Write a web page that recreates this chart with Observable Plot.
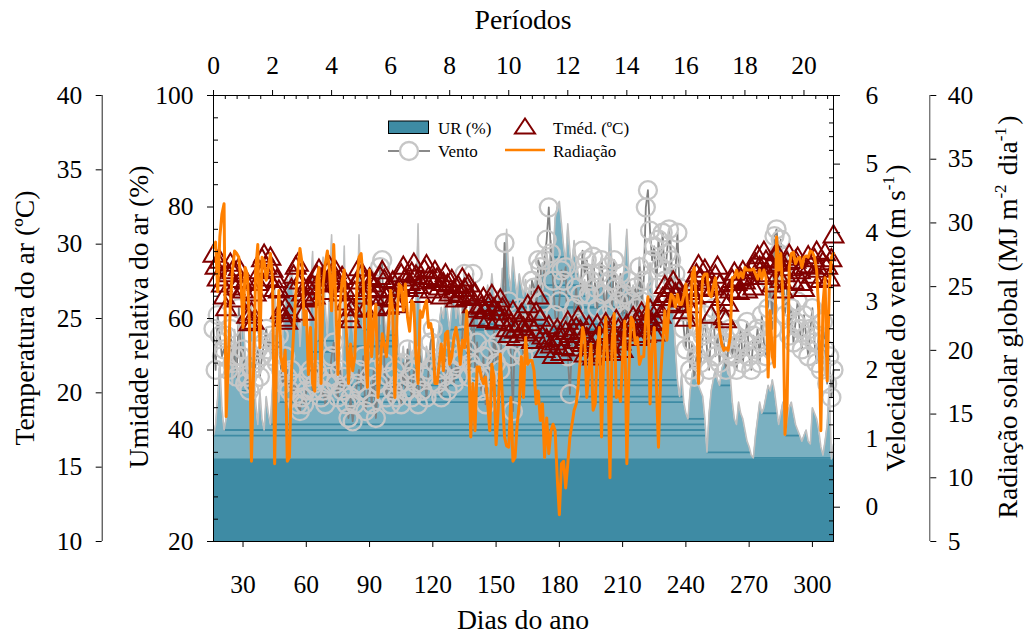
<!DOCTYPE html>
<html>
<head>
<meta charset="utf-8">
<script src="https://cdn.jsdelivr.net/npm/d3@7"></script>
<script src="https://cdn.jsdelivr.net/npm/@observablehq/plot@0.6"></script>
<style>
  html, body { margin: 0; padding: 0; background: #fff; }
  #chart { width: 1028px; height: 635px; }
</style>
</head>
<body>
<div id="chart"></div>
<script>
// Daily series, day of year 16 to 310 (one value per day)
const firstDay = 16;

// Relative humidity (%)
const umidade = [
  39, 41, 46, 52, 44, 40, 42, 50, 55, 48,
  58, 53, 47, 56, 61, 54, 49, 57, 63, 52,
  45, 41, 47, 42, 40, 46, 43, 41, 48, 66,
  57, 45, 50, 58, 62, 67, 66, 70, 64, 60,
  64, 55, 61, 65, 58, 54, 63, 72, 59, 56,
  61, 66, 71, 62, 57, 64, 75, 63, 50, 46,
  52, 48, 73, 55, 57, 65, 59, 55, 60, 75,
  64, 58, 62, 67, 60, 58, 61, 56, 63, 59,
  66, 60, 57, 62, 58, 61, 68, 59, 54, 52,
  55, 51, 53, 56, 52, 54, 62, 77, 58, 53,
  51, 55, 53, 56, 52, 49, 55, 59, 62, 60,
  64, 61, 58, 62, 65, 60, 63, 59, 62, 67,
  61, 58, 64, 62, 60, 63, 59, 61, 64, 62,
  66, 63, 68, 64, 62, 65, 63, 69, 66, 76,
  68, 65, 71, 67, 64, 68, 66, 64, 67, 63,
  66, 62, 65, 68, 64, 67, 70, 66, 72, 68,
  74, 71, 78, 80, 81, 77, 73, 70, 77, 72,
  69, 74, 70, 68, 66, 64, 67, 63, 66, 69,
  65, 62, 66, 68, 71, 65, 63, 68, 77, 69,
  64, 61, 65, 63, 67, 70, 76, 68, 64, 66,
  62, 65, 71, 66, 63, 60, 64, 70, 65, 62,
  60, 63, 58, 61, 57, 60, 63, 74, 62, 55,
  49, 46, 50, 45, 43, 42, 47, 50, 52, 49,
  48, 47, 46, 42, 36, 43, 47, 49, 51, 49,
  48, 51, 52, 53, 54, 50, 45, 42, 41, 45,
  43, 42, 40, 38, 37, 35.5, 35, 39, 42, 45,
  43, 44, 46, 48, 47, 49, 47, 44, 41, 43,
  45, 39, 42, 44, 45, 43, 41, 40, 39, 38,
  39, 40, 38, 37.5, 44, 43, 42, 40, 37, 35.5,
  38, 41, 48, 34.8, 37.5
];

// Mean air temperature (ºC)
const tmed = [
  29.2, 28.4, 27.6, 28.8, 27.2, 26.4, 25.6, 27.9, 28.6, 28.1,
  27.0, 26.2, 28.3, 27.5, 26.8, 27.4, 25.1, 24.6, 25.3, 24.7,
  26.6, 27.3, 28.1, 28.9, 29.2, 28.4, 27.6, 29.0, 28.2, 26.9,
  27.5, 26.8, 25.4, 24.9, 25.6, 24.7, 25.2, 26.9, 27.8, 28.4,
  28.6, 27.4, 26.6, 25.3, 26.2, 27.0, 26.3, 27.1, 26.4, 27.8,
  28.2, 27.6, 26.7, 27.3, 28.0, 28.4, 27.9, 27.2, 28.1, 27.4,
  26.6, 27.7, 26.9, 26.0, 25.2, 24.8, 25.6, 26.7, 27.4, 28.3,
  27.8, 26.4, 25.5, 26.9, 27.6, 27.2, 26.4, 25.6, 26.8, 27.7,
  28.1, 27.5, 26.3, 25.7, 26.9, 27.4, 26.2, 25.8, 27.0, 27.9,
  28.4, 27.6, 26.9, 27.3, 28.0, 28.6, 27.8, 27.1, 26.5, 27.4,
  28.2, 28.5, 27.7, 26.8, 27.5, 28.1, 27.6, 27.0, 26.4, 27.3,
  27.9, 27.2, 26.6, 27.5, 26.8, 26.2, 27.1, 26.5, 27.6, 26.9,
  26.3, 27.2, 26.4, 25.8, 26.6, 25.5, 24.9, 25.7, 26.3, 25.4,
  24.8, 25.9, 26.5, 25.6, 24.7, 25.3, 26.2, 25.6, 24.9, 24.2,
  23.8, 24.6, 25.4, 24.1, 23.6, 24.5, 25.2, 24.3, 23.9, 25.8,
  24.6, 23.4, 24.1, 25.3, 26.4, 24.9, 23.7, 22.8, 23.5, 24.4,
  23.1, 22.4, 23.3, 24.2, 23.6, 22.6, 23.0, 24.0, 24.7, 23.8,
  22.9, 23.4, 24.3, 25.0, 24.1, 23.2, 22.5, 23.6, 24.4, 23.0,
  22.3, 23.4, 24.5, 23.8, 22.7, 23.5, 24.6, 24.0, 23.1, 22.6,
  23.7, 24.8, 24.2, 23.3, 22.8, 23.9, 24.5, 23.6, 24.3, 25.0,
  24.2, 23.6, 24.8, 25.3, 24.4, 23.8, 24.9, 25.5, 24.6, 23.9,
  24.7, 25.6, 25.1, 26.3, 27.1, 26.5, 25.8, 26.9, 27.4, 26.6,
  25.9, 26.8, 26.2, 25.4, 24.9, 25.8, 26.7, 27.3, 26.4, 27.9,
  28.5, 27.6, 26.9, 28.2, 27.4, 26.5, 25.1, 27.0, 27.8, 28.4,
  27.2, 26.3, 25.0, 24.8, 25.9, 26.8, 27.5, 28.0, 27.3, 26.7,
  27.6, 28.1, 27.4, 26.8, 27.7, 28.3, 27.0, 28.6, 29.1, 28.4,
  27.7, 29.4, 28.8, 27.9, 28.5, 27.2, 28.9, 29.3, 28.6, 27.5,
  26.8, 27.9, 28.7, 29.2, 28.3, 27.4, 28.8, 29.0, 28.1, 27.3,
  26.9, 28.4, 29.1, 28.5, 27.8, 28.9, 29.4, 28.2, 27.5, 28.7,
  29.3, 28.4, 27.6, 28.9, 30.5
];

// Wind speed (m/s)
const vento = [
  2.6, 2.0, 2.8, 2.5, 2.2, 2.3, 2.5, 2.0, 2.6, 2.1,
  2.2, 1.9, 2.9, 2.2, 2.3, 1.8, 1.9, 1.7, 2.0, 1.8,
  2.1, 2.3, 1.9, 2.2, 2.4, 2.6, 2.3, 2.5, 2.2, 2.4,
  2.1, 2.5, 2.0, 1.8, 2.2, 1.9, 1.7, 2.0, 1.6, 1.8,
  1.5, 1.4, 1.6, 1.5, 1.7, 1.9, 2.0, 1.7, 1.8, 2.0,
  1.9, 1.6, 1.7, 1.5, 1.8, 1.9, 2.2, 2.4, 1.8, 1.6,
  2.0, 1.7, 1.9, 1.5, 1.3, 1.6, 1.25, 1.5, 1.8, 2.0,
  1.7, 2.2, 1.4, 1.6, 1.9, 1.5, 2.0, 1.3, 1.8, 3.5,
  3.6, 2.1, 1.6, 1.9, 1.5, 1.7, 2.0, 1.6, 1.8, 1.5,
  2.1, 1.7, 2.3, 1.9, 1.6, 2.0, 1.8, 1.5, 2.2, 1.7,
  1.9, 1.6, 2.0, 2.4, 2.6, 2.1, 1.8, 2.0, 1.6, 1.9,
  2.2, 1.7, 2.3, 2.0, 1.8, 2.1, 1.9, 2.2, 2.5, 3.4,
  2.3, 1.9, 2.1, 3.4, 2.0, 2.4, 1.9, 1.7, 2.2, 1.5,
  1.9, 2.3, 1.7, 2.6, 2.1, 2.4, 2.0, 2.8, 3.85, 2.5,
  3.0, 2.2, 1.4, 2.7, 2.3, 2.9, 2.5, 2.2, 2.6, 2.9,
  2.4, 3.3, 3.2, 2.7, 3.6, 3.5, 3.0, 3.6, 3.9, 4.37,
  3.7, 3.3, 2.8, 2.6, 3.0, 3.45, 3.3, 3.5, 2.2, 1.65,
  2.4, 2.9, 3.2, 2.7, 3.1, 3.74, 3.4, 3.6, 3.1, 3.3,
  3.65, 3.2, 2.9, 3.4, 3.6, 3.1, 2.8, 3.5, 3.3, 2.9,
  3.6, 3.2, 3.0, 3.4, 2.8, 3.1, 2.6, 3.3, 3.0, 2.7,
  3.2, 2.9, 3.5, 3.0, 3.3, 4.37, 4.62, 4.03, 3.6, 3.8,
  3.2, 3.9, 3.5, 4.0, 3.3, 3.7, 4.05, 3.6, 3.0, 3.4,
  4.0, 3.2, 3.1, 2.6, 2.3, 2.9, 2.0, 2.4, 1.9, 2.2,
  2.6, 2.1, 2.5, 2.8, 2.3, 2.0, 2.6, 2.9, 2.2, 2.5,
  2.1, 2.7, 2.4, 2.0, 2.3, 2.6, 2.2, 2.5, 2.0, 2.3,
  2.6, 2.1, 2.4, 2.7, 2.2, 2.0, 2.5, 2.3, 2.6, 2.1,
  2.8, 2.4, 2.2, 2.9, 3.3, 2.6, 3.95, 4.05, 3.7, 3.9,
  3.5, 2.8, 3.2, 2.5, 2.9, 2.4, 2.7, 3.0, 2.6, 2.3,
  2.8, 2.5, 2.2, 2.6, 2.9, 2.4, 2.1, 2.5, 2.0, 2.7,
  2.3, 1.8, 2.2, 1.6, 2.0
];

// Global solar radiation (MJ m-2 dia-1)
const radiacao = [
  28.1, 28.5, 24.6, 28.9, 30.7, 31.5, 14.8, 19.0, 23.6, 26.3,
  27.8, 27.6, 27.3, 25.5, 21.8, 26.5, 26.0, 22.3, 11.3, 18.4,
  26.3, 28.3, 20.2, 27.3, 27.0, 25.5, 26.5, 27.6, 25.5, 11.1,
  21.0, 24.7, 19.5, 18.4, 20.0, 11.3, 11.6, 18.4, 21.5, 24.4,
  26.3, 28.0, 26.8, 22.0, 23.1, 18.1, 21.8, 17.4, 16.8, 25.5,
  26.5, 17.4, 25.2, 26.8, 27.8, 26.3, 23.1, 28.3, 23.9, 18.1,
  23.6, 25.5, 26.3, 21.5, 17.4, 20.5, 18.4, 19.5, 25.2, 27.3,
  27.6, 25.5, 20.0, 17.1, 26.3, 19.5, 22.3, 23.6, 16.3, 18.4,
  21.3, 20.5, 19.5, 21.8, 24.7, 23.1, 16.3, 22.6, 25.2, 25.0,
  23.1, 25.2, 22.6, 21.5, 23.9, 23.6, 19.5, 17.4, 23.1, 22.6,
  23.4, 23.9, 21.8, 22.1, 21.0, 17.4, 17.4, 18.9, 20.5, 18.4,
  21.3, 21.5, 18.9, 19.5, 21.0, 21.8, 20.8, 18.9, 20.8, 20.2,
  23.1, 19.5, 13.2, 17.4, 13.7, 18.7, 18.7, 17.9, 17.4, 17.9,
  15.8, 13.7, 18.9, 17.9, 12.6, 15.3, 19.7, 16.3, 13.2, 12.5,
  12.4, 16.3, 11.3, 11.6, 14.2, 15.8, 19.5, 16.3, 21.0, 18.9,
  19.2, 19.2, 18.4, 15.8, 16.8, 14.5, 15.8, 11.6, 14.7, 11.9,
  13.7, 14.2, 13.7, 10.0, 7.1, 11.1, 11.3, 9.2, 11.1, 13.2,
  14.2, 15.3, 15.8, 17.4, 19.5, 21.8, 21.0, 16.3, 18.4, 20.5,
  15.3, 15.8, 20.0, 21.8, 13.2, 19.5, 22.6, 18.9, 10.0, 20.5,
  22.9, 16.3, 16.8, 16.0, 19.5, 22.3, 11.1, 18.4, 22.6, 22.3,
  20.5, 21.0, 18.9, 19.5, 19.5, 22.6, 24.2, 15.8, 20.2, 21.8,
  17.4, 12.4, 17.9, 20.5, 23.1, 20.8, 23.4, 24.4, 24.2, 23.4,
  24.4, 23.6, 23.6, 24.3, 25.2, 23.1, 21.8, 26.0, 26.5, 23.6,
  17.4, 23.1, 25.7, 26.0, 26.0, 24.4, 24.2, 25.0, 25.7, 23.6,
  21.5, 20.5, 20.0, 20.2, 20.0, 21.0, 25.7, 25.7, 26.3, 25.7,
  26.1, 25.7, 26.5, 26.3, 26.3, 26.3, 26.4, 26.0, 25.6, 26.3,
  25.6, 26.3, 25.7, 17.9, 23.1, 19.5, 18.7, 28.9, 26.3, 27.6,
  24.2, 13.4, 15.8, 26.5, 27.6, 27.7, 26.8, 27.2, 27.3, 26.5,
  27.3, 27.4, 27.3, 27.8, 27.7, 27.3, 26.3, 23.1, 13.7, 23.6,
  25.7, 17.6, 25.0, 27.3, 27.6
];

// Axis ticks
const dayTicks = [30, 60, 90, 120, 150, 180, 210, 240, 270, 300];
const periodTicks = [0, 2, 4, 6, 8, 10, 12, 14, 16, 18, 20];
const rhTicks = [20, 40, 60, 80, 100];
const tempTicks = [10, 15, 20, 25, 30, 35, 40];
const windTicks = [0, 1, 2, 3, 4, 5, 6];
const radTicks = [5, 10, 15, 20, 25, 30, 35, 40];

// Each period spans 14 days, starting on day 16
const periodLength = 14;
const dayOfPeriod = p => firstDay + periodLength * p;

// Secondary quantities are placed on the humidity (left) axis through linear maps
const tempToRH = d3.scaleLinear([10, 40], [20, 100]);
const windToRH = d3.scaleLinear([-0.5, 6], [20, 100]);
const radToRH = d3.scaleLinear([5, 40], [20, 100]);

const rows = umidade.map((u, i) => ({
  day: firstDay + i,
  ur: u,
  t: tempToRH(tmed[i]),
  w: windToRH(vento[i]),
  r: radToRH(radiacao[i])
}));
const urMin = d3.min(umidade);

// Fill levels inside the humidity area: from each local minimum to where the curve next drops below it
const levels = [];
for (let i = 0; i < umidade.length; i++) {
  const v = umidade[i];
  const prev = i === 0 ? Infinity : umidade[i - 1];
  const next = i === umidade.length - 1 ? Infinity : umidade[i + 1];
  if (!(v < prev && v <= next)) continue;
  let j = i + 1;
  while (j < umidade.length && umidade[j] >= v) j++;
  let end;
  if (j < umidade.length) {
    const a = umidade[j - 1], b = umidade[j];
    end = firstDay + j - 1 + (a - v) / (a - b);
  } else end = firstDay + umidade.length - 1;
  const start = firstDay + i;
  if (end - start >= 5) levels.push({x1: start, x2: end, y: v});
}

// Minor tick positions
const periodMinor = d3.range(0, 53).filter(k => k % 5 !== 0).map(k => dayOfPeriod(k * 0.4));
const rhMinor = d3.range(20, 101, 4).filter(v => v % 20 !== 0);
const windMinor = d3.range(-2, 31).filter(k => k % 5 !== 0).map(k => windToRH(k * 0.2));

const inner = 620; // plot frame width in pixels

const chart = Plot.plot({
  width: 1028,
  height: 635,
  marginLeft: 213,
  marginRight: 195,
  marginTop: 95,
  marginBottom: 94,
  style: {
    fontFamily: "'Liberation Serif', 'Times New Roman', serif",
    fontSize: "25.5px",
    color: "#000",
    background: "#fff",
    overflow: "visible"
  },
  x: {domain: [firstDay, 310]},
  y: {domain: [20, 100]},
  marks: [
    // Relative humidity area
    Plot.areaY(rows, {x: "day", y1: 20, y2: "ur", fill: "#7ab0c1"}),
    Plot.areaY(rows, {x: "day", y1: 20, y2: urMin, fill: "#3e8ba4"}),
    Plot.ruleY(levels, {x1: "x1", x2: "x2", y: "y", stroke: "#3e8ba4", strokeWidth: 1.8}),
    Plot.lineY(rows, {x: "day", y: "ur", stroke: "#bfbfbf", strokeWidth: 1.6}),
    // Wind speed
    Plot.lineY(rows, {x: "day", y: "w", stroke: "#808080", strokeWidth: 1.8}),
    Plot.dot(rows, {x: "day", y: "w", r: 9, stroke: "#c6c6c6", strokeWidth: 2.3, fill: "none"}),
    // Mean temperature
    Plot.dot(rows, {x: "day", y: "t", symbol: "triangle", r: 7.4, stroke: "#800000", strokeWidth: 2, fill: "none"}),
    // Solar radiation
    Plot.lineY(rows, {x: "day", y: "r", stroke: "#ff8000", strokeWidth: 3}),
    Plot.frame({stroke: "#000"}),

    // Bottom: day of year
    Plot.axisX({anchor: "bottom", ticks: dayTicks, tickSize: 6, tickPadding: 27, label: null}),
    // Top: periods
    Plot.axisX({anchor: "top", ticks: periodTicks.map(dayOfPeriod), tickFormat: d => Math.round((d - firstDay) / periodLength), tickSize: 6, tickPadding: 16, label: null}),
    Plot.axisX({anchor: "bottom", ticks: periodMinor, dy: -446, tickSize: 4, fill: "none", label: null}),
    // Left: relative humidity
    Plot.axisY({anchor: "left", ticks: rhTicks, tickSize: 6, tickPadding: 14, label: null}),
    Plot.axisY({anchor: "right", ticks: rhMinor, dx: -inner, tickSize: 4, fill: "none", label: null}),
    // Far left: temperature
    Plot.ruleX([firstDay], {y1: 20, y2: 100, dx: -111.3, stroke: "#222"}),
    Plot.axisY({anchor: "left", ticks: tempTicks.map(tempToRH), tickFormat: v => Math.round(tempToRH.invert(v)), dx: -111.3, tickSize: 6, tickPadding: 14, label: null}),
    // Right: wind speed
    Plot.axisY({anchor: "right", ticks: windTicks.map(windToRH), tickFormat: v => Math.round(windToRH.invert(v)), tickSize: 6, tickPadding: 26, label: null}),
    Plot.axisY({anchor: "left", ticks: windMinor, dx: inner, tickSize: 4, fill: "none", label: null}),
    // Far right: solar radiation
    Plot.ruleX([310], {y1: 20, y2: 100, dx: 96.3, stroke: "#444"}),
    Plot.axisY({anchor: "right", ticks: radTicks.map(radToRH), tickFormat: v => Math.round(radToRH.invert(v)), dx: 96.3, tickSize: 6, tickPadding: 12, label: null})
  ]
});

document.getElementById("chart").appendChild(chart);

// Axis titles and legend
const svg = d3.select(chart);
const titleSize = 27.7;

function title(x, y, parts, rotate) {
  const t = svg.append("text")
    .attr("transform", `translate(${x},${y})` + (rotate ? " rotate(-90)" : ""))
    .attr("text-anchor", "middle")
    .attr("font-size", titleSize)
    .attr("fill", "#000");
  for (const p of parts) {
    if (typeof p === "string") t.append("tspan").text(p);
    else {
      t.append("tspan").attr("dy", -11).attr("font-size", 17).text(p.sup);
      t.append("tspan").attr("dy", 11).text("\u200A");
    }
  }
}

title(523, 29, ["Períodos"], false);
title(523, 629, ["Dias do ano"], false);
title(33.5, 318, ["Temperatura do ar (ºC)"], true);
title(148, 317, ["Umidade relativa do ar (%)"], true);
title(905, 318, ["Velocidade do vento (m s", {sup: "-1"}, ")"], true);
title(1016.5, 317, ["Radiação solar global (MJ m", {sup: "-2"}, " dia", {sup: "-1"}, ")"], true);

const legend = svg.append("g")
  .attr("font-size", 17)
  .attr("text-anchor", "start")
  .attr("fill", "#000");
legend.append("rect").attr("x", 388.5).attr("y", 121).attr("width", 40).attr("height", 12.5)
  .attr("fill", "#3e8ba4").attr("stroke", "#000").attr("stroke-width", 1);
legend.append("text").attr("x", 438).attr("y", 134).text("UR (%)");
legend.append("path").attr("d", "M525,118.5L535,133.5L515,133.5Z")
  .attr("fill", "none").attr("stroke", "#800000").attr("stroke-width", 2);
legend.append("text").attr("x", 553).attr("y", 134).text("Tméd. (ºC)");
legend.append("line").attr("x1", 388).attr("x2", 430).attr("y1", 151).attr("y2", 151)
  .attr("stroke", "#8a8a8a").attr("stroke-width", 2);
legend.append("circle").attr("cx", 409).attr("cy", 151).attr("r", 9)
  .attr("fill", "#fff").attr("stroke", "#c6c6c6").attr("stroke-width", 2.3);
legend.append("text").attr("x", 438).attr("y", 156.5).text("Vento");
legend.append("line").attr("x1", 505).attr("x2", 545).attr("y1", 150).attr("y2", 150)
  .attr("stroke", "#ff8000").attr("stroke-width", 2.5);
legend.append("text").attr("x", 553).attr("y", 156.5).text("Radiação");
</script>
</body>
</html>
